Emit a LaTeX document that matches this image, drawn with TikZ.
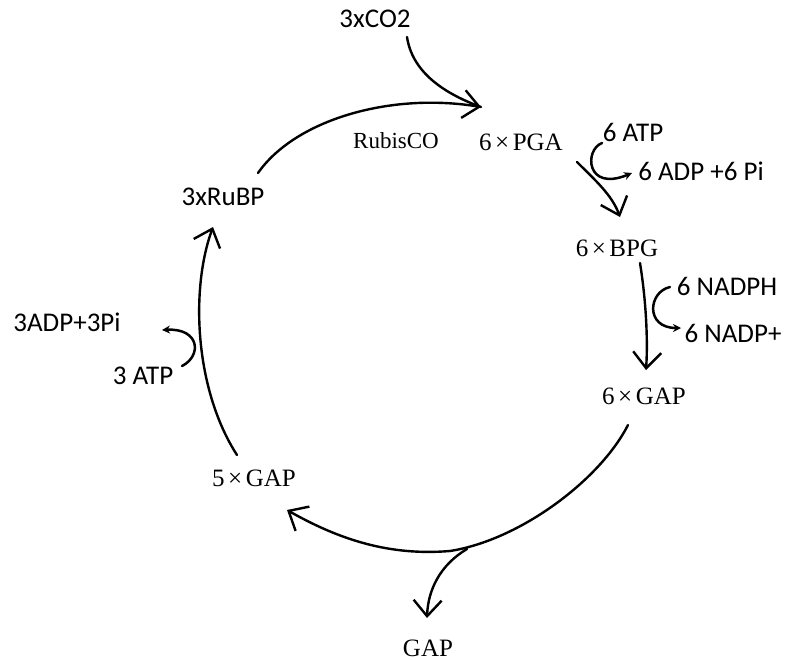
\documentclass[tikz,border=0pt]{standalone}
\usepackage{fontspec}
\setmainfont{Liberation Serif}
\newfontfamily\calsans{Carlito}
\usetikzlibrary{arrows.meta}
\newcommand{\tms}{\hspace{3.5pt}×\hspace{3.5pt}}
\tikzset{
  serlab/.style={inner sep=0pt, font=\fontsize{25}{29}\selectfont},
  enzlab/.style={inner sep=0pt, font=\fontsize{23}{27}\selectfont},
  sanlab/.style={inner sep=0pt, font=\calsans\fontsize{27}{31}\selectfont},
  flow/.style={line width=2.4pt, line cap=round, -{Straight Barb[length=16pt,width=28pt,line width=2.4pt]}},
  plain/.style={line width=2.4pt, line cap=round},
  side/.style={line width=2.5pt, line cap=round, -{Stealth[length=8pt,width=8pt]}}
}
\begin{document}
\begin{tikzpicture}[x=1pt,y=-1pt]
\useasboundingbox (0,0) rectangle (788,661);
% labels
\node[sanlab] (co2) at (375,19) {3xCO2};
\node[enzlab] (rubisco) at (396,141) {RubisCO};
\node[serlab] (pga) at (521,142) {6\tms PGA};
\node[sanlab] (atpsix) at (633,132) {6 ATP};
\node[sanlab] (adpsix) at (701,171) {6 ADP +6 Pi};
\node[serlab] (bpg) at (617,248) {6\tms BPG};
\node[sanlab] (nadph) at (727,286) {6 NADPH};
\node[sanlab] (nadp) at (733,333) {6 NADP+};
\node[serlab] (gapsix) at (644,396) {6\tms GAP};
\node[serlab] (gapfive) at (254,478) {5\tms GAP};
\node[serlab] (gapout) at (428,648) {GAP};
\node[sanlab] (rubp) at (223,197) {3xRuBP};
\node[sanlab] (adpthree) at (67,322) {3ADP+3Pi};
\node[sanlab] (atpthree) at (143,376) {3 ATP};
% anchor points of connectors
\coordinate (rubpS) at (258,173);
\coordinate (pgaT) at (481,107);
\coordinate (co2S) at (407,37);
\coordinate (pgaS) at (577,162);
\coordinate (bpgT) at (620,217);
\coordinate (bpgS) at (640,263);
\coordinate (gapsixT) at (646,370);
\coordinate (gapsixS) at (628,425);
\coordinate (mid) at (450,551);
\coordinate (gapfiveT) at (287,510);
\coordinate (br) at (467,549);
\coordinate (gapoutT) at (427,618);
\coordinate (gapfiveS) at (237,455);
\coordinate (rubpT) at (213,227);
\coordinate (atpsixS) at (602,143);
\coordinate (adpsixT) at (632,173);
\coordinate (nadphS) at (670,287);
\coordinate (nadpT) at (681,328);
\coordinate (atpthreeS) at (182,366);
\coordinate (adpthreeT) at (162,330);
% main cycle
\draw[flow] (rubpS) .. controls (295,120) and (390,92) .. (pgaT);
\draw[plain] (co2S) .. controls (412,70) and (440,92) .. (pgaT);
\draw[flow] (pgaS) .. controls (595,180) and (612,195) .. (bpgT);
\draw[flow] (bpgS) .. controls (646,300) and (648,340) .. (gapsixT);
\draw[plain] (gapsixS) .. controls (600,480) and (520,540) .. (mid);
\draw[flow] (mid) .. controls (390,556) and (340,540) .. (gapfiveT);
\draw[flow] (br) .. controls (440,565) and (428,590) .. (gapoutT);
\draw[flow] (gapfiveS) .. controls (195,390) and (190,290) .. (rubpT);
% side reactions
\draw[side] (atpsixS) .. controls (584,150) and (586,192) .. (adpsixT);
\draw[side] (nadphS) .. controls (648,292) and (645,328) .. (nadpT);
\draw[side] (atpthreeS) .. controls (202,356) and (200,328) .. (adpthreeT);
\end{tikzpicture}
\end{document}
